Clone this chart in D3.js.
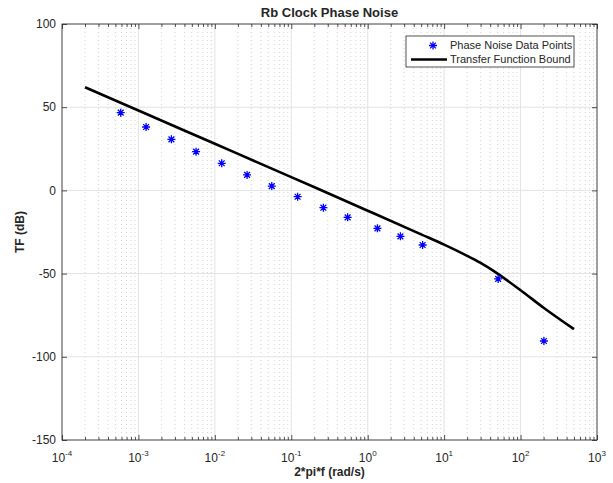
<!DOCTYPE html>
<html>
<head>
<meta charset="utf-8">
<script src="https://cdn.jsdelivr.net/npm/d3@7"></script>
<style>
  body { margin: 0; background: #fff; }
  text { font-family: "Liberation Sans", Arial, Helvetica, sans-serif; fill: #262626; }
</style>
</head>
<body>
<svg id="chart" width="613" height="483"></svg>
<script>
// ---- data ----
const pointX = [5.86e-4, 1.26e-3, 2.70e-3, 5.68e-3, 1.23e-2, 2.64e-2, 5.56e-2, 0.121, 0.263, 0.546, 1.34, 2.68, 5.23, 50.9, 202];
const pointY = [46.7, 38.1, 30.7, 23.3, 16.3, 9.3, 2.6, -3.8, -10.4, -16.2, -22.8, -27.6, -32.8, -53.2, -90.5];
const boundX = [2e-4, 1e-3, 1e-2, 1e-1, 1, 5, 10, 20, 30, 50, 100, 200, 500];
const boundY = [62, 48, 28, 8, -12.2, -26.4, -32.6, -39.3, -43.6, -50, -60, -70.5, -83.4];
const xTickExp = [-4, -3, -2, -1, 0, 1, 2, 3];
const yTicks = [-150, -100, -50, 0, 50, 100];
const titleText = "Rb Clock Phase Noise";
const xLabel = "2*pi*f (rad/s)";
const yLabel = "TF (dB)";
const legendLabels = ["Phase Noise Data Points", "Transfer Function Bound"];

// ---- layout ----
const L = 62, R = 597, T = 24, B = 440;
const svg = d3.select("#chart");
const x = d3.scaleLog().domain([1e-4, 1e3]).range([L, R]);
const y = d3.scaleLinear().domain([-150, 100]).range([B, T]);

const majorX = xTickExp.map(e => Math.pow(10, e));
const minorX = [];
for (let e = -4; e < 3; e++) for (let m = 2; m <= 9; m++) minorX.push(m * Math.pow(10, e));

// grid
const grid = svg.append("g");
grid.selectAll(".mg").data(minorX).join("line")
  .attr("x1", d => x(d)).attr("x2", d => x(d)).attr("y1", T).attr("y2", B)
  .attr("stroke", "#c8c8c8").attr("stroke-width", 0.8).attr("stroke-dasharray", "1,3");
grid.selectAll(".gx").data(majorX).join("line")
  .attr("x1", d => x(d)).attr("x2", d => x(d)).attr("y1", T).attr("y2", B)
  .attr("stroke", "#e3e3e3").attr("stroke-width", 1);
grid.selectAll(".gy").data(yTicks).join("line")
  .attr("x1", L).attr("x2", R).attr("y1", d => y(d)).attr("y2", d => y(d))
  .attr("stroke", "#e3e3e3").attr("stroke-width", 1);

// axes with inward ticks
function styleAxis(g) {
  g.select(".domain").remove();
  g.selectAll("line").attr("stroke", "#262626").attr("stroke-width", 0.8);
  g.selectAll("text").remove();
}
svg.append("g").attr("transform", `translate(0,${B})`)
  .call(d3.axisBottom(x).tickValues(majorX).tickSize(-5).tickFormat("")).call(styleAxis);
svg.append("g").attr("transform", `translate(0,${B})`)
  .call(d3.axisBottom(x).tickValues(minorX).tickSize(-3).tickFormat("")).call(styleAxis);
svg.append("g").attr("transform", `translate(0,${T})`)
  .call(d3.axisTop(x).tickValues(majorX).tickSize(-5).tickFormat("")).call(styleAxis);
svg.append("g").attr("transform", `translate(0,${T})`)
  .call(d3.axisTop(x).tickValues(minorX).tickSize(-3).tickFormat("")).call(styleAxis);
svg.append("g").attr("transform", `translate(${L},0)`)
  .call(d3.axisLeft(y).tickValues(yTicks).tickSize(-5).tickFormat("")).call(styleAxis);
svg.append("g").attr("transform", `translate(${R},0)`)
  .call(d3.axisRight(y).tickValues(yTicks).tickSize(-5).tickFormat("")).call(styleAxis);

// box
svg.append("rect").attr("x", L).attr("y", T).attr("width", R - L).attr("height", B - T)
  .attr("fill", "none").attr("stroke", "#262626").attr("stroke-width", 0.8);

// tick labels
const xt = svg.append("g").selectAll("text").data(xTickExp).join("text")
  .attr("x", d => x(Math.pow(10, d))).attr("y", 462)
  .attr("text-anchor", "middle").attr("font-size", 12);
xt.append("tspan").text("10");
xt.append("tspan").attr("font-size", 8).attr("dy", -6).text(d => String(d));

svg.append("g").selectAll("text").data(yTicks).join("text")
  .attr("x", 56).attr("y", d => y(d)).attr("dy", "0.35em")
  .attr("text-anchor", "end").attr("font-size", 12).text(d => d);

// titles
svg.append("text").attr("x", (L + R) / 2).attr("y", 17).attr("text-anchor", "middle")
  .attr("font-size", 13).attr("font-weight", "bold").attr("fill", "#000").text(titleText);
svg.append("text").attr("x", (L + R) / 2).attr("y", 476).attr("text-anchor", "middle")
  .attr("font-size", 12).attr("font-weight", "bold").text(xLabel);
svg.append("text").attr("transform", `translate(24,${(T + B) / 2}) rotate(-90)`)
  .attr("text-anchor", "middle").attr("font-size", 12).attr("font-weight", "bold").text(yLabel);

// bound line
const bound = boundX.map((d, i) => [d, boundY[i]]);
svg.append("path").datum(bound)
  .attr("d", d3.line().x(d => x(d[0])).y(d => y(d[1])).curve(d3.curveCatmullRom.alpha(0.5)))
  .attr("fill", "none").attr("stroke", "#000").attr("stroke-width", 2.6);

// star markers
function star(g, s) {
  const a = s, b = s * 0.72;
  g.append("path")
    .attr("d", `M${-a},0L${a},0M0,${-a}L0,${a}M${-b},${-b}L${b},${b}M${-b},${b}L${b},${-b}`)
    .attr("stroke", "#0000ff").attr("stroke-width", 1.3).attr("fill", "none");
}
const pts = pointX.map((d, i) => [d, pointY[i]]);
svg.append("g").selectAll("g").data(pts).join("g")
  .attr("transform", d => `translate(${x(d[0])},${y(d[1])})`)
  .each(function () { star(d3.select(this), 4); });

// legend
const lg = svg.append("g");
lg.append("rect").attr("x", 406).attr("y", 36).attr("width", 168).attr("height", 31)
  .attr("fill", "#fff").attr("stroke", "#262626").attr("stroke-width", 0.8);
star(lg.append("g").attr("transform", "translate(433,45.5)"), 4);
lg.append("line").attr("x1", 411).attr("x2", 447).attr("y1", 59.5).attr("y2", 59.5)
  .attr("stroke", "#000").attr("stroke-width", 2.6);
lg.selectAll(".lt").data(legendLabels).join("text")
  .attr("x", 450).attr("y", (d, i) => 45.5 + i * 14).attr("dy", "0.35em")
  .attr("font-size", 11).attr("fill", "#000").text(d => d);
</script>
</body>
</html>
